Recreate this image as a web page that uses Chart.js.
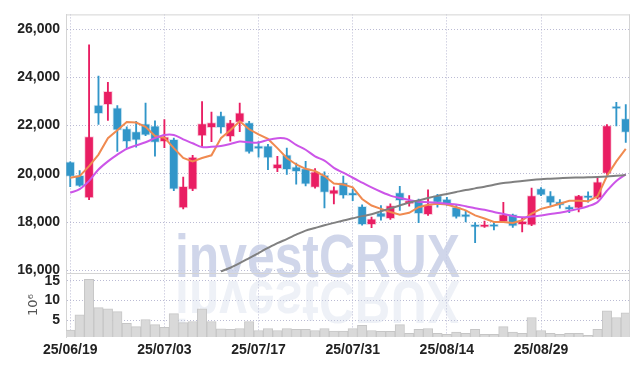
<!DOCTYPE html>
<html>
<head>
<meta charset="utf-8">
<script src="https://cdn.jsdelivr.net/npm/chart.js@4"></script>
<style>
html, body { margin: 0; padding: 0; background: #fff; }
#wrap { width: 639px; height: 366px; }
</style>
</head>
<body>
<div id="wrap"><canvas id="chart"></canvas></div>
<script>
// trading days (yy/mm/dd)
const dates = [
  '25/06/19','25/06/20','25/06/23','25/06/24','25/06/25','25/06/26','25/06/27','25/06/30',
  '25/07/01','25/07/02','25/07/03','25/07/04','25/07/07','25/07/08','25/07/09','25/07/10',
  '25/07/11','25/07/14','25/07/15','25/07/16','25/07/17','25/07/18','25/07/21','25/07/22',
  '25/07/23','25/07/24','25/07/25','25/07/28','25/07/29','25/07/30','25/07/31','25/08/01',
  '25/08/04','25/08/05','25/08/06','25/08/07','25/08/08','25/08/11','25/08/12','25/08/13',
  '25/08/14','25/08/18','25/08/19','25/08/20','25/08/21','25/08/22','25/08/25','25/08/26',
  '25/08/27','25/08/28','25/08/29','25/09/01','25/09/02','25/09/03','25/09/04','25/09/05',
  '25/09/08','25/09/09','25/09/10','25/09/11'
];

const opens  = [20500,19940,19000,22850,22870,22740,21880,21750,22070,21990,
                21340,21430,18590,19360,21570,21920,22420,21540,22130,22130,
                21100,21160,20220,20790,20290,20220,19440,19950,19160,19640,
                19160,18660,17900,18390,18140,19230,18760,18890,18310,19100,
                18960,18620,18300,17800,17790,17810,18010,18320,17900,17870,
                19390,19100,18850,18530,18580,19100,18990,20020,22700,22290];
const highs  = [20500,20140,25350,24050,23790,22830,21950,22180,22930,22200,
                22250,21480,19870,20770,23000,22560,22560,22220,22940,22180,
                21340,21230,20730,21070,20450,20520,20220,20090,19460,19910,
                19370,18720,18210,18690,18760,19480,19100,18960,19340,19150,
                19030,18690,18490,17980,18040,17980,18820,18330,18170,19410,
                19430,19270,18940,18690,19110,19260,19840,22040,22970,22870];
const lows   = [19470,19480,18930,22050,22220,20930,21070,21110,21580,20730,
                21090,19300,18550,19300,21140,21340,21690,21360,21750,20860,
                20690,20180,20090,19980,19570,19500,19410,18590,18760,18990,
                18890,17870,17770,18080,18110,18490,18660,17980,18280,18620,
                18690,18170,18010,17150,17780,17680,17980,17780,17600,17850,
                19100,18690,18580,18390,18420,18830,18960,19980,21990,21300];
const closes = [19900,19490,21550,22500,23420,21810,21340,21400,21610,21300,
                21540,19370,19480,20700,22090,22130,21920,22130,22530,20900,
                21040,20660,20410,20180,20090,19570,20090,19230,19340,19100,
                19100,17900,18140,18210,18690,18890,18890,18350,18720,18820,
                18760,18210,18210,17790,17870,17800,18310,17830,18040,19100,
                19120,18800,18690,18520,19100,18990,19670,22000,22690,21720];

// volume, millions of shares
const volumes = [2.5,6.4,15.4,8.2,7.9,7.2,4.2,3.4,5.2,3.9,
                 3.2,6.7,4.4,4.7,7.9,4.7,2.8,2.7,2.9,4.7,
                 2.4,2.9,2.4,2.9,2.7,2.7,2.4,2.9,2.25,2.25,
                 2.9,3.7,2.4,2.2,2.2,3.9,1.7,2.7,2.9,1.7,
                 1.4,2.0,1.7,2.7,1.4,1.4,3.4,2.0,1.7,5.7,
                 2.4,1.7,1.4,1.7,1.7,1.2,2.7,7.4,5.7,6.9];

// moving averages
const ma5 = [19840,19910,20320,20800,21480,21810,22150,22130,21950,21570,
             21500,21070,20660,20520,20660,20770,21480,21810,22180,21850,
             21640,21450,21070,20660,20390,20210,20120,19910,19600,19560,
             19440,18960,18690,18550,18420,18310,18390,18620,18720,18760,
             18730,18620,18490,18280,18150,18010,18010,17970,18080,18350,
             18550,18650,18760,18890,18890,18870,19070,19910,20520,21040];
const ma20 = [19220,19370,19710,20180,20520,20800,21040,21180,21310,21480,
              21610,21610,21430,21270,21110,21120,21160,21240,21340,21310,
              21300,21410,21480,21450,21200,21000,20730,20550,20250,20050,
              19840,19640,19440,19260,19100,19000,18920,18850,18830,18800,
              18760,18730,18660,18580,18510,18420,18340,18250,18200,18230,
              18280,18340,18390,18470,18550,18660,18830,19300,19710,19980];
const maLong = [null,null,null,null,null,null,null,null,null,null,
                null,null,null,null,null,null,15960,16110,16300,16510,
                16720,16930,17130,17300,17480,17650,17760,17870,17970,18070,
                18160,18250,18330,18450,18570,18690,18810,18900,19000,19090,
                19170,19250,19330,19400,19470,19550,19620,19660,19710,19750,
                19780,19800,19820,19840,19850,19860,19870,19890,19920,19950];

const priceTicks = [16000, 18000, 20000, 22000, 24000, 26000];
const volTicks = [5, 10, 15];
const dateTickIdx = [0, 10, 20, 30, 40, 50];

const UP = '#e91e63';
const DOWN = '#3196c9';
const GRID = 'rgba(175,175,205,0.85)';
const tickFont = { family: '"Liberation Sans Narrow", "Liberation Sans", sans-serif', size: 14, weight: 'bold' };

const idx = dates.map((d, i) => i);
const upAt = i => closes[i] >= opens[i];

const wickData = idx.map(i => ({ x: i, y: [lows[i], highs[i]] }));
const bodyData = idx.map(i => ({ x: i, y: [opens[i], closes[i]] }));
const volData = idx.map(i => ({ x: i, y: volumes[i] }));
const toPts = arr => arr.map((v, i) => ({ x: i, y: v }));

// watermark, frame, volume unit
const decor = {
  id: 'decor',
  beforeDatasetsDraw(chart) {
    const ctx = chart.ctx;
    ctx.save();
    ctx.font = 'bold 62px "Liberation Sans"';
    const w = ctx.measureText('investCRUX').width;
    ctx.translate(175, 277);
    ctx.scale(285 / w, 1);
    ctx.fillStyle = 'rgba(200,207,230,0.85)';
    ctx.fillText('investCRUX', 0, 0);
    ctx.scale(1, -1);
    ctx.fillStyle = 'rgba(200,207,230,0.3)';
    ctx.fillText('investCRUX', 0, -4);
    ctx.restore();
  },
  afterDraw(chart) {
    const ctx = chart.ctx;
    const a = chart.chartArea;
    const yv = chart.scales.yv;
    ctx.save();
    ctx.strokeStyle = '#d4d4d4';
    ctx.lineWidth = 1;
    ctx.beginPath();
    ctx.moveTo(a.left, a.top + 0.5); ctx.lineTo(a.right, a.top + 0.5);
    ctx.moveTo(a.right - 0.5, a.top); ctx.lineTo(a.right - 0.5, a.bottom);
    ctx.moveTo(a.left, Math.round(yv.top) + 0.5); ctx.lineTo(a.right, Math.round(yv.top) + 0.5);
    ctx.stroke();
    ctx.translate(34, (yv.top + yv.bottom) / 2);
    ctx.rotate(-Math.PI / 2);
    ctx.font = '13px "DejaVu Sans"';
    ctx.fillStyle = '#555';
    ctx.textAlign = 'center';
    ctx.textBaseline = 'middle';
    ctx.fillText('10\u2076', 0, 0);
    ctx.restore();
  }
};

new Chart(document.getElementById('chart'), {
  type: 'bar',
  data: {
    datasets: [
      {
        type: 'line', data: toPts(maLong), yAxisID: 'y',
        borderColor: '#808080', borderWidth: 2, pointRadius: 0, tension: 0.3, spanGaps: false
      },
      {
        type: 'line', data: toPts(ma20), yAxisID: 'y',
        borderColor: '#cc55e8', borderWidth: 2, pointRadius: 0, tension: 0.3
      },
      {
        type: 'line', data: toPts(ma5), yAxisID: 'y',
        borderColor: '#f08a50', borderWidth: 2, pointRadius: 0, tension: 0
      },
      {
        data: volData, yAxisID: 'yv', grouped: false,
        backgroundColor: '#d9d9d9', borderColor: '#c6c6c6', borderWidth: 1,
        barPercentage: 1, categoryPercentage: 1
      },
      {
        data: wickData, yAxisID: 'y', grouped: false, barThickness: 1.2,
        backgroundColor: c => upAt(c.dataIndex) ? UP : DOWN
      },
      {
        data: bodyData, yAxisID: 'y', grouped: false, barThickness: 9, minBarLength: 3,
        borderSkipped: false, borderWidth: 1,
        borderColor: c => upAt(c.dataIndex) ? 'rgba(233,30,99,0.22)' : 'rgba(49,150,201,0.22)',
        backgroundColor: c => upAt(c.dataIndex) ? UP : DOWN
      }
    ]
  },
  options: {
    responsive: true,
    maintainAspectRatio: false,
    animation: false,
    layout: { padding: { left: 0, right: 9, top: 9, bottom: 0 } },
    plugins: { legend: { display: false }, tooltip: { enabled: false } },
    scales: {
      x: {
        type: 'linear', min: -0.45, max: 59.45, offset: false,
        afterBuildTicks: s => { s.ticks = dateTickIdx.map(v => ({ value: v })); },
        afterFit: s => { s.height = 29; },
        ticks: { callback: v => dates[v], font: tickFont, color: '#222', padding: 5, maxRotation: 0, autoSkip: false },
        grid: { color: GRID, offset: false, drawTicks: false },
        border: { display: false, dash: [1, 2] }
      },
      y: {
        position: 'left', stack: 'panels', stackWeight: 263, weight: 1,
        min: 15890, max: 26610,
        afterBuildTicks: s => { s.ticks = priceTicks.map(v => ({ value: v })); },
        afterFit: s => { s.width = 66; },
        ticks: { callback: v => v.toLocaleString('en-US'), font: tickFont, color: '#222', padding: 6, autoSkip: false },
        grid: { color: GRID, drawTicks: false },
        border: { color: '#d4d4d4', dash: [1, 2] }
      },
      yv: {
        position: 'left', stack: 'panels', stackWeight: 65, weight: 0,
        min: 0.75, max: 17,
        afterBuildTicks: s => { s.ticks = volTicks.map(v => ({ value: v })); },
        afterFit: s => { s.width = 66; },
        ticks: { font: tickFont, color: '#222', padding: 6, autoSkip: false },
        grid: { color: GRID, drawTicks: false },
        border: { color: '#d4d4d4', dash: [1, 2] }
      }
    }
  },
  plugins: [decor]
});
</script>
</body>
</html>
